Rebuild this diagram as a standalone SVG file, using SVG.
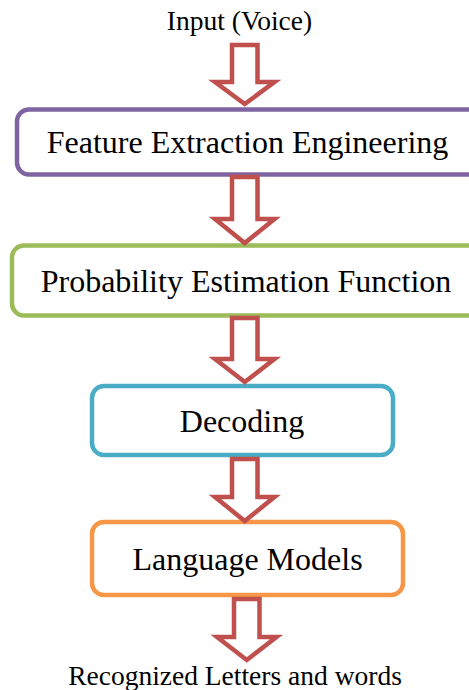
<svg xmlns="http://www.w3.org/2000/svg" width="469" height="690" viewBox="0 0 469 690">
  <style>
    .box { fill: #ffffff; stroke-width: 4.5; }
    .arrow { fill: #ffffff; stroke: #C0504D; stroke-width: 4.5; stroke-linejoin: miter; }
    .label { font-family: "Liberation Serif", "Times New Roman", serif; font-size: 32px; fill: #000000; text-anchor: middle; }
    .io { font-family: "Liberation Serif", "Times New Roman", serif; font-size: 27.5px; fill: #000000; text-anchor: middle; }
  </style>
  <rect width="469" height="690" fill="#ffffff"/>

  <text id="input" class="io" x="239.5" y="30">Input (Voice)</text>

  <g id="feature-extraction">
    <rect class="box" x="17" y="109.5" width="470" height="65" rx="12" stroke="#8064A2"/>
    <text class="label" x="247.5" y="153">Feature Extraction Engineering</text>
  </g>

  <g id="probability-estimation">
    <rect class="box" x="12" y="245.5" width="470" height="70" rx="12" stroke="#9BBB59"/>
    <text class="label" x="246" y="292">Probability Estimation Function</text>
  </g>

  <g id="decoding">
    <rect class="box" x="92" y="386" width="301" height="69" rx="12" stroke="#4BACC6"/>
    <text class="label" x="242" y="432">Decoding</text>
  </g>

  <g id="language-models">
    <rect class="box" x="92" y="522" width="311" height="73" rx="12" stroke="#F79646"/>
    <text class="label" x="247.5" y="570">Language Models</text>
  </g>

  <text id="output" class="io" x="235" y="685">Recognized Letters and words</text>

  <g id="connectors">
    <path class="arrow" d="M232,45 H257.5 V82 H274.5 L244.75,104 L215,82 H232 Z"/>
    <path class="arrow" d="M232,177 H257.5 V219 H274.5 L244.75,243 L215,219 H232 Z"/>
    <path class="arrow" d="M232,318 H257.5 V359 H274.5 L244.75,382 L215,359 H232 Z"/>
    <path class="arrow" d="M232,459 H257.5 V497 H274.5 L244.75,521 L215,497 H232 Z"/>
    <path class="arrow" d="M234,599 H259.5 V637 H276.5 L246.75,660 L217,637 H234 Z"/>
  </g>
</svg>
